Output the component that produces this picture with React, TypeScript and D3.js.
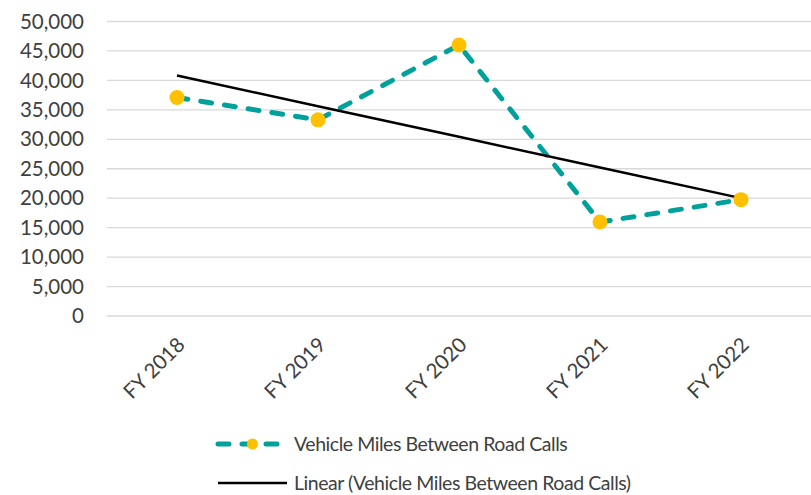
import React from "react";
import * as d3 from "d3";

const categories = ["FY 2018", "FY 2019", "FY 2020", "FY 2021", "FY 2022"];
const milesValues = [37100, 33300, 46000, 15950, 19750];
const yTicks = [0, 5000, 10000, 15000, 20000, 25000, 30000, 35000, 40000, 45000, 50000];
const seriesName = "Vehicle Miles Between Road Calls";
const trendName = "Linear (Vehicle Miles Between Road Calls)";

const W = 811;
const H = 495;
const FONT = "Lato, 'Open Sans', sans-serif";
const TEAL = "#00A19A";
const GOLD = "#FFC000";
const TEXT = "#404040";

export default function App() {
  const x = d3.scalePoint<string>().domain(categories).range([106.5, 811.5]).padding(0.5);
  const y = d3.scaleLinear().domain([0, 50000]).range([316, 21.5]);

  // linear regression for trendline
  const idx = milesValues.map((_, i) => i);
  const mx = d3.mean(idx) as number;
  const my = d3.mean(milesValues) as number;
  const slope =
    d3.sum(idx.map((i) => (i - mx) * (milesValues[i] - my))) /
    d3.sum(idx.map((i) => (i - mx) * (i - mx)));
  const intercept = my - slope * mx;
  const trend = idx.map((i) => intercept + slope * i);

  const line = d3
    .line<number>()
    .x((_, i) => x(categories[i]) as number)
    .y((d) => y(d));

  const fmt = d3.format(",");

  return (
    <svg
      width={W}
      height={H}
      style={{ position: "absolute", left: 0, top: 0, background: "#fff" }}
      fontFamily={FONT}
    >
      <rect x={0} y={0} width={W} height={H} fill="#fff" />
      {yTicks.map((t) => (
        <g key={t}>
          <line x1={107} x2={811} y1={y(t)} y2={y(t)} stroke="#d9d9d9" strokeWidth={1.3} />
          <text x={84} y={y(t)} dy="0.35em" textAnchor="end" fontSize={20.5} fill={TEXT}>
            {fmt(t)}
          </text>
        </g>
      ))}
      {categories.map((c) => (
        <text
          key={c}
          transform={`translate(${(x(c) as number) + 4},${341}) rotate(-45)`}
          textAnchor="end"
          dy="0.35em"
          fontSize={20.5}
          fill={TEXT}
        >
          {c}
        </text>
      ))}
      <path
        d={line(milesValues) as string}
        fill="none"
        stroke={TEAL}
        strokeWidth={5}
        strokeDasharray="11 13"
        strokeLinecap="round"
        strokeLinejoin="round"
      />
      <path d={line(trend) as string} fill="none" stroke="#000" strokeWidth={2.5} />
      {milesValues.map((v, i) => (
        <circle key={i} cx={x(categories[i]) as number} cy={y(v)} r={7.5} fill={GOLD} />
      ))}
      {/* legend */}
      <g>
        <line x1={218} x2={281} y1={444} y2={444} stroke={TEAL} strokeWidth={5} strokeDasharray="11 13" strokeLinecap="round" />
        <circle cx={252.5} cy={444} r={5.5} fill={GOLD} />
        <text x={294} y={444} dy="0.35em" fontSize={19.5} letterSpacing={-0.45} fill={TEXT}>
          {seriesName}
        </text>
        <line x1={218} x2={287} y1={483} y2={483} stroke="#000" strokeWidth={2.5} />
        <text x={294} y={483} dy="0.35em" fontSize={19.5} letterSpacing={-0.45} fill={TEXT}>
          {trendName}
        </text>
      </g>
    </svg>
  );
}
